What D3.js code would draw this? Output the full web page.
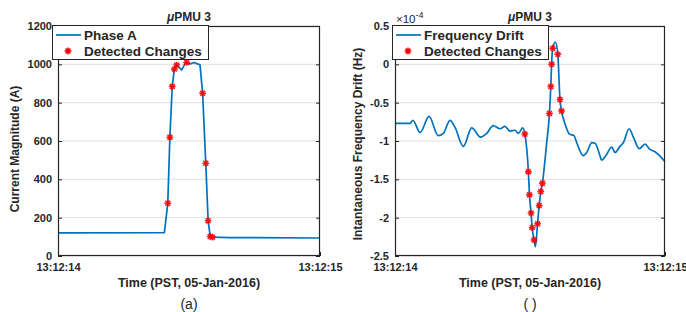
<!DOCTYPE html>
<html lang="en">
<head>
  <meta charset="utf-8">
  <title>uPMU 3 - detected changes</title>
  <script src="https://d3js.org/d3.v7.min.js"></script>
  <style>
    body { margin: 0; background: #fff; }
    text { font-family: "Liberation Sans", Arial, sans-serif; fill: #262626; }
  </style>
</head>
<body>
<script>
  // Panel (a): phase A current magnitude, time as fraction of the second 13:12:14 -> 13:12:15
  var tA   = [0, 0.406, 0.419, 0.427, 0.436, 0.444, 0.453, 0.472, 0.485, 0.491, 0.504, 0.519, 0.542, 0.552, 0.564, 0.573, 0.581, 0.590, 0.656, 1];
  var curA = [121, 122, 275, 620, 884, 975, 996, 971, 1004, 1010, 1002, 1010, 997, 849, 484, 184, 102, 98, 96, 94];
  var detTA = [0.419, 0.427, 0.436, 0.444, 0.453, 0.491, 0.552, 0.564, 0.573, 0.581, 0.590];
  var detVA = [275, 620, 884, 975, 996, 1010, 849, 484, 184, 102, 98];

  // Panel (b): frequency drift, values in units of 1e-4 Hz
  var tF = [0, 0.006, 0.056, 0.066, 0.093, 0.126, 0.160, 0.179, 0.204, 0.222, 0.253, 0.284, 0.317, 0.340, 0.364,
            0.389, 0.407, 0.426, 0.444, 0.457, 0.473, 0.481, 0.494, 0.498, 0.504, 0.508, 0.515, 0.520, 0.528,
            0.534, 0.540, 0.546, 0.561, 0.572, 0.577, 0.580, 0.584, 0.594, 0.603, 0.611, 0.617, 0.630, 0.646,
            0.663, 0.673, 0.697, 0.710, 0.729, 0.741, 0.759, 0.765, 0.781, 0.803, 0.815, 0.833, 0.846, 0.867,
            0.885, 0.905, 0.926, 0.944, 0.963, 1];
  var drift = [-0.77, -0.77, -0.77, -0.73, -0.89, -0.68, -0.93, -0.90, -0.73, -0.82, -1.07, -0.83, -0.95, -0.90, -0.80,
               -0.84, -0.81, -0.87, -0.86, -0.90, -0.83, -0.91, -1.40, -1.70, -1.94, -2.13, -2.29, -2.38, -2.08,
               -1.84, -1.66, -1.55, -1.05, -0.64, -0.29, 0.0, 0.21, 0.29, 0.13, -0.46, -0.61, -0.78, -0.91,
               -0.93, -1.02, -1.19, -1.15, -1.02, -1.03, -1.19, -1.25, -1.19, -1.08, -1.15, -1.07, -1.02, -0.84,
               -0.97, -1.10, -1.04, -1.11, -1.14, -1.27];
  var detTF = [0.481, 0.494, 0.498, 0.504, 0.508, 0.515, 0.528, 0.534, 0.540, 0.546, 0.572, 0.577, 0.580, 0.584, 0.603, 0.611, 0.617];
  var detVF = [-0.91, -1.40, -1.70, -1.94, -2.13, -2.29, -2.08, -1.84, -1.66, -1.55, -0.64, -0.29, 0.0, 0.21, 0.13, -0.46, -0.61];

  var xTicks = [0, 1];
  var xTickLabels = ["13:12:14", "13:12:15"];
  var yTicksA = [0, 200, 400, 600, 800, 1000, 1200];
  var yTicksF = [-2.5, -2, -1.5, -1, -0.5, 0, 0.5];

  var width = 686, height = 312;
  var lineColor = "#0072BD";

  var svg = d3.select("body").append("svg")
      .attr("width", width)
      .attr("height", height);
  svg.append("rect").attr("width", width).attr("height", height).attr("fill", "#fff");

  // asterisk marker like matlab '*'
  function star(r) {
    var a = r * 0.72;
    return "M" + (-r) + ",0L" + r + ",0M0," + (-r) + "L0," + r +
           "M" + (-a) + "," + (-a) + "L" + a + "," + a + "M" + (-a) + "," + a + "L" + a + "," + (-a);
  }

  function panel(p) {
    var g = svg.append("g");
    var x = d3.scaleLinear().domain([0, 1]).range([p.left, p.right]);
    var y = d3.scaleLinear().domain(p.yDomain).range([p.bottom, p.top]);

    // horizontal grid
    g.append("g").selectAll("line")
      .data(p.yTicks)
      .enter().append("line")
      .attr("x1", p.left).attr("x2", p.right)
      .attr("y1", function(d) { return y(d); })
      .attr("y2", function(d) { return y(d); })
      .attr("stroke", "#e0e0e0")
      .attr("stroke-width", 1);

    // axes, ticks pointing inward
    g.append("g")
      .attr("transform", "translate(" + p.left + ",0)")
      .call(d3.axisLeft(y).tickValues(p.yTicks).tickFormat(p.yFormat)
        .tickSizeInner(-4).tickSizeOuter(0).tickPadding(6));
    g.append("g")
      .attr("transform", "translate(" + p.right + ",0)")
      .call(d3.axisRight(y).tickValues(p.yTicks).tickFormat("")
        .tickSizeInner(-4).tickSizeOuter(0));
    g.append("g")
      .attr("transform", "translate(0," + p.bottom + ")")
      .call(d3.axisBottom(x).tickValues(xTicks)
        .tickFormat(function(d, i) { return xTickLabels[i]; })
        .tickSizeInner(-4).tickSizeOuter(0).tickPadding(7));
    g.selectAll(".domain").remove();
    g.selectAll(".tick line").attr("stroke", "#262626");
    g.selectAll(".tick text")
      .attr("font-family", "'Liberation Sans', Arial, sans-serif")
      .attr("font-size", 11)
      .attr("font-weight", "bold")
      .attr("fill", "#262626");

    // data line
    var line = d3.line()
      .x(function(d) { return x(d[0]); })
      .y(function(d) { return y(d[1]); })
      .curve(p.curve);
    g.append("path")
      .datum(d3.zip(p.t, p.v))
      .attr("d", line)
      .attr("fill", "none")
      .attr("stroke", lineColor)
      .attr("stroke-width", 1.7)
      .attr("stroke-linejoin", "round");

    // detected changes
    g.append("g").selectAll("path")
      .data(d3.zip(p.dt, p.dv))
      .enter().append("path")
      .attr("d", star(3.4))
      .attr("transform", function(d) { return "translate(" + x(d[0]) + "," + y(d[1]) + ")"; })
      .attr("fill", "none")
      .attr("stroke", "#ff0000")
      .attr("stroke-width", 1.5)
      .attr("stroke-opacity", 0.9);

    // box
    g.append("rect")
      .attr("x", p.left + 0.5).attr("y", p.top + 0.5)
      .attr("width", p.right - p.left - 1).attr("height", p.bottom - p.top - 1)
      .attr("fill", "none")
      .attr("stroke", "#262626")
      .attr("stroke-width", 1.2);

    var cx = (p.left + p.right) / 2;

    // title  "μPMU 3"
    var title = g.append("text")
      .attr("x", cx).attr("y", 21)
      .attr("text-anchor", "middle")
      .attr("font-size", 12)
      .attr("font-weight", "bold");
    title.append("tspan").attr("font-style", "italic").text("\u03bc");
    title.append("tspan").text("PMU 3");

    // axis labels
    g.append("text")
      .attr("x", cx).attr("y", 287)
      .attr("text-anchor", "middle")
      .attr("font-size", 12.5)
      .attr("font-weight", "bold")
      .text("Time (PST, 05-Jan-2016)");
    g.append("text")
      .attr("transform", "translate(" + p.ylabelX + "," + p.ylabelY + ") rotate(-90)")
      .attr("text-anchor", "middle")
      .attr("dy", "0.35em")
      .attr("font-size", 12)
      .attr("font-weight", "bold")
      .text(p.ylabel);
    g.append("text")
      .attr("x", cx).attr("y", 309)
      .attr("text-anchor", "middle")
      .attr("font-size", 14)
      .text(p.caption);

    // legend
    var lg = g.append("g");
    lg.append("rect")
      .attr("x", p.legX + 0.5).attr("y", 25.5)
      .attr("width", p.legW).attr("height", 34)
      .attr("fill", "#fff")
      .attr("stroke", "#262626")
      .attr("stroke-width", 1);
    lg.append("line")
      .attr("x1", p.legX + 4).attr("x2", p.legX + 29)
      .attr("y1", 35).attr("y2", 35)
      .attr("stroke", lineColor).attr("stroke-width", 1.7);
    lg.append("path")
      .attr("d", star(3.4))
      .attr("transform", "translate(" + (p.legX + 16) + ",51)")
      .attr("fill", "none").attr("stroke", "#ff0000").attr("stroke-width", 1.5);
    lg.append("text")
      .attr("x", p.legX + 32).attr("y", 39.5)
      .attr("font-size", 13.5).attr("font-weight", "bold")
      .text(p.legendName);
    lg.append("text")
      .attr("x", p.legX + 32).attr("y", 56)
      .attr("font-size", 13.5).attr("font-weight", "bold")
      .text("Detected Changes");

    return g;
  }

  panel({
    left: 58, right: 320, top: 26, bottom: 256,
    yDomain: [0, 1200], yTicks: yTicksA, yFormat: d3.format("d"),
    t: tA, v: curA, dt: detTA, dv: detVA, curve: d3.curveLinear,
    ylabel: "Current Magnitude (A)", ylabelX: 15, ylabelY: 149,
    caption: "(a)", legendName: "Phase A", legX: 52, legW: 156
  });

  var gF = panel({
    left: 395, right: 665, top: 26, bottom: 256,
    yDomain: [-2.5, 0.5], yTicks: yTicksF, yFormat: function(d) { return String(d); },
    t: tF, v: drift, dt: detTF, dv: detVF, curve: d3.curveMonotoneX,
    ylabel: "Intantaneous Frequency Drift (Hz)", ylabelX: 358, ylabelY: 144,
    caption: "( )", legendName: "Frequency Drift", legX: 392, legW: 156
  });

  // exponent label for the drift axis
  var ex = gF.append("text")
    .attr("x", 396).attr("y", 23)
    .attr("font-size", 11.5);
  ex.append("tspan").text("\u00d710");
  ex.append("tspan").attr("dy", -5).attr("font-size", 9).text("-4");
</script>
</body>
</html>
